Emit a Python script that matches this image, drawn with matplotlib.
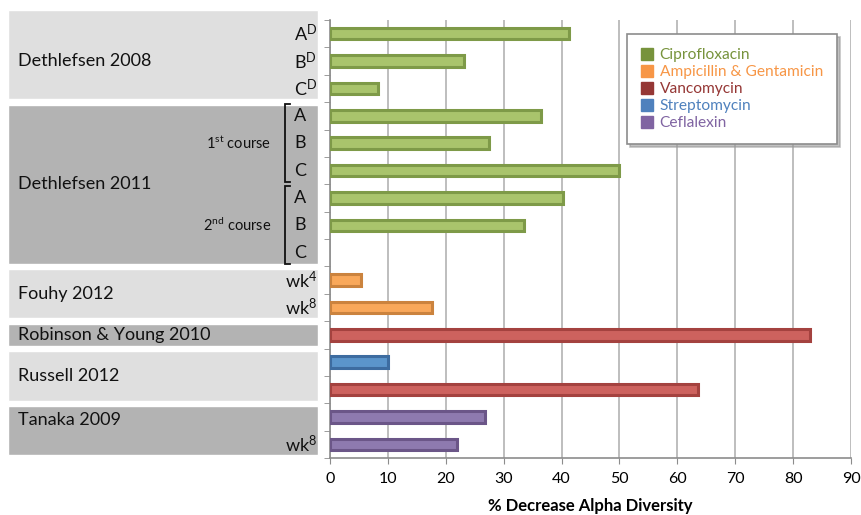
import matplotlib.pyplot as plt
from matplotlib.patches import Rectangle
from matplotlib.lines import Line2D

plt.rcParams['font.family'] = ['Lato', 'DejaVu Sans']
plt.rcParams['mathtext.fontset'] = 'custom'
plt.rcParams['mathtext.rm'] = 'Lato'
plt.rcParams['mathtext.it'] = 'Lato:italic'
plt.rcParams['mathtext.bf'] = 'Lato:bold'

# one entry per bar row, top to bottom
row_labels = ['A$^\\mathrm{D}$', 'B$^\\mathrm{D}$', 'C$^\\mathrm{D}$',
              'A', 'B', 'C', 'A', 'B', 'C',
              'wk$^\\mathrm{4}$', 'wk$^\\mathrm{8}$',
              '', '', '', '', 'wk$^\\mathrm{8}$']
row_drug = ['Ciprofloxacin'] * 9 + ['Ampicillin & Gentamicin'] * 2 + \
           ['Vancomycin', 'Streptomycin', 'Vancomycin', 'Ceflalexin', 'Ceflalexin']
decrease = [41.3, 23.2, 8.3, 36.5, 27.4, 50.0, 40.2, 33.5, None,
            5.4, 17.6, 82.9, 10.1, 63.6, 26.7, 21.9]

studies = ['Dethlefsen 2008', 'Dethlefsen 2011', 'Fouhy 2012',
           'Robinson & Young 2010', 'Russell 2012', 'Tanaka 2009']
study_rows = [(0, 2), (3, 8), (9, 10), (11, 11), (12, 13), (14, 15)]
courses = ['1$^\\mathrm{st}$ course', '2$^\\mathrm{nd}$ course']
course_rows = [(3, 5), (6, 8)]

drugs = ['Ciprofloxacin', 'Ampicillin & Gentamicin', 'Vancomycin',
         'Streptomycin', 'Ceflalexin']
fill = {'Ciprofloxacin': '#A9C46C', 'Ampicillin & Gentamicin': '#F9A85A',
        'Vancomycin': '#CD625E', 'Streptomycin': '#5B95CB', 'Ceflalexin': '#8E7AAF'}
edge = {'Ciprofloxacin': '#7E9A48', 'Ampicillin & Gentamicin': '#CB833E',
        'Vancomycin': '#A4423F', 'Streptomycin': '#3D6CA0', 'Ceflalexin': '#6B5688'}
key = {'Ciprofloxacin': '#77933C', 'Ampicillin & Gentamicin': '#F79646',
       'Vancomycin': '#953735', 'Streptomycin': '#4F81BD', 'Ceflalexin': '#8064A2'}

W, H = 861, 515
fig = plt.figure(figsize=(W / 100, H / 100), dpi=100)
ax = fig.add_axes([330 / W, 1 - 458 / H, 521 / W, 438 / H])

n = len(decrease)
for i, (v, d) in enumerate(zip(decrease, row_drug)):
    if v is None:
        continue
    ax.barh(i, v, height=0.42, color=fill[d], edgecolor=edge[d], linewidth=2.2, zorder=3)

ax.set_xlim(0, 90)
ax.set_ylim(n - 0.5, -0.5)
ax.set_xticks(range(0, 91, 10))
ax.set_yticks([])
ax.set_yticks([i - 0.5 for i in range(n + 1)], minor=True)
ax.tick_params(axis='y', which='minor', length=4, color='#8C8C8C', direction='out')
ax.tick_params(axis='x', length=4, color='#8C8C8C', labelsize=11.5, pad=6)
ax.grid(axis='x', color='#B3B3B3', linewidth=1.2, zorder=0)
for s in ['top', 'right']:
    ax.spines[s].set_visible(False)
for s in ['left', 'bottom']:
    ax.spines[s].set_color('#8C8C8C')
    ax.spines[s].set_linewidth(1.2)
ax.set_xlabel('% Decrease Alpha Diversity', fontsize=12, fontweight='bold', labelpad=9)

handles = [Line2D([], [], marker='s', linestyle='none', markersize=8,
                  markerfacecolor=key[d], markeredgecolor=key[d]) for d in drugs]
leg = ax.legend(handles, drugs, loc='upper left', bbox_to_anchor=(0.57, 0.968),
                fontsize=11.2, frameon=True, fancybox=False,
                shadow={'color': '#9A9A9A', 'alpha': 0.6},
                handlelength=0.8, handletextpad=0.4, labelspacing=0.2,
                borderpad=0.9, borderaxespad=0)
leg.get_frame().set_edgecolor('#8C8C8C')
leg.get_frame().set_linewidth(1.2)
for t, d in zip(leg.get_texts(), drugs):
    t.set_color(key[d])

# left label panel, sharing the row scale with the bar axes
lax = fig.add_axes([0, 1 - 458 / H, 330 / W, 438 / H], sharey=ax)
lax.set_xlim(0, 330)
lax.axis('off')
shades = ['#DFDFDF', '#B3B3B3']
for k, (name, (r0, r1)) in enumerate(zip(studies, study_rows)):
    top = r0 - 0.5 + 0.1 if k else r0 - 0.5 - 0.38
    bot = r1 + 0.5 - 0.1
    lax.add_patch(Rectangle((8, top), 310, bot - top, facecolor=shades[k % 2],
                            edgecolor='white', linewidth=1, clip_on=False))
    mid = (r0 + r1) / 2
    if name == 'Tanaka 2009':
        mid = r0 + 0.1
    lax.text(18, mid, name, fontsize=13, va='center', ha='left', color='#111111')

bracketed = [r for r0, r1 in course_rows for r in range(r0, r1 + 1)]
for i, lab in enumerate(row_labels):
    if not lab:
        continue
    if i in bracketed:
        lax.text(300, i, lab, fontsize=13, ha='center', va='center', color='#111111')
    else:
        lax.text(317, i, lab, fontsize=13, ha='right', va='center', color='#111111')

for lab, (r0, r1) in zip(courses, course_rows):
    y0, y1 = r0 - 0.42, r1 + 0.42
    lax.plot([290, 285, 285, 290], [y0, y0, y1, y1], color='#111111', linewidth=1.3,
             clip_on=False, solid_joinstyle='miter')
    lax.text(271, (r0 + r1) / 2, lab, fontsize=10.5, ha='right', va='center', color='#111111')

fig.savefig('out.png', dpi=100)
